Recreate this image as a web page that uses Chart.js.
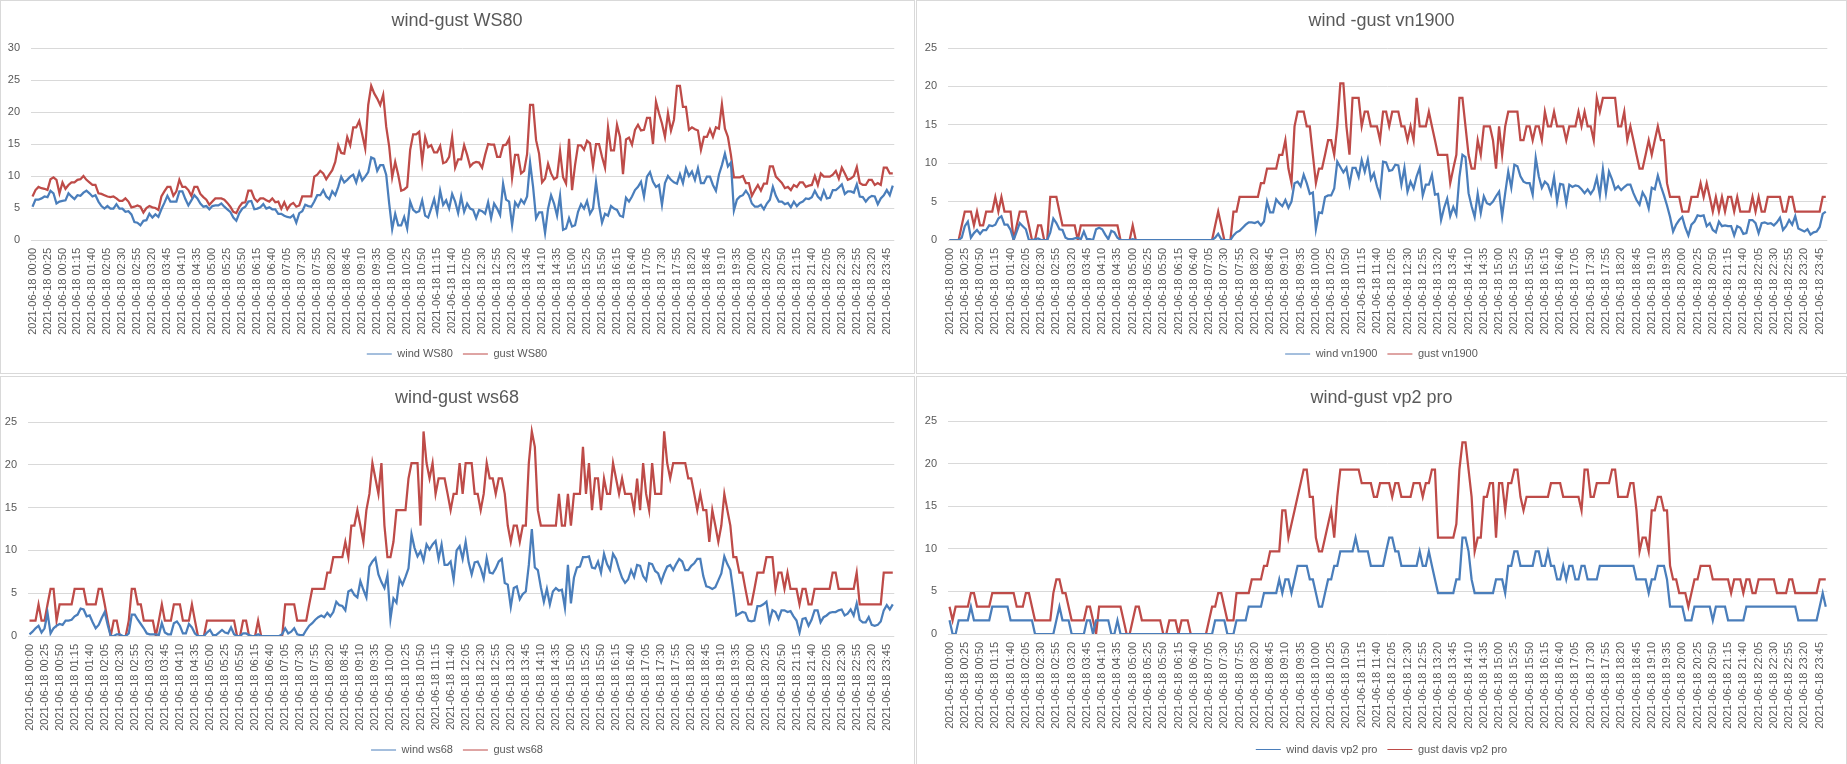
<!DOCTYPE html>
<html>
<head>
<meta charset="utf-8">
<script src="https://cdn.jsdelivr.net/npm/chart.js@4.4.1/dist/chart.umd.min.js"></script>
<style>
  html, body { margin: 0; padding: 0; background: #fff; width: 1847px; height: 764px; overflow: hidden; }
  canvas { position: absolute; }
  .frame { position: absolute; box-sizing: border-box; border: 1px solid #d9d9d9; z-index: 2; pointer-events: none; }
</style>
</head>
<body>
<canvas id="ws80" width="914" height="373" style="left:0px;top:0px"></canvas>
<canvas id="vn1900" width="931" height="373" style="left:916px;top:0px"></canvas>
<canvas id="ws68" width="914" height="400" style="left:0px;top:376px"></canvas>
<canvas id="vp2" width="931" height="400" style="left:916px;top:376px"></canvas>
<div class="frame" style="left:0px;top:0px;width:915px;height:374px"></div>
<div class="frame" style="left:916px;top:0px;width:931px;height:374px"></div>
<div class="frame" style="left:0px;top:376px;width:915px;height:400px"></div>
<div class="frame" style="left:916px;top:376px;width:931px;height:400px"></div>
<script>
// 5-minute categories for the day
const times = [];
for (let m = 0; m < 1440; m += 5) {
  const h = String(Math.floor(m / 60)).padStart(2, "0");
  const mm = String(m % 60).padStart(2, "0");
  times.push("2021-06-18 " + h + ":" + mm);
}

const yTicks30 = [0, 5, 10, 15, 20, 25, 30];
const yTicks25 = [0, 5, 10, 15, 20, 25];

const windWS80 = [
  5.2, 6.3, 6.3, 6.5, 6.8, 6.7, 7.7, 7.3, 5.7, 6.0,
  6.1, 6.2, 7.3, 6.8, 6.4, 7.0, 6.9, 7.4, 7.7, 7.3,
  6.8, 7.0, 6.0, 5.3, 4.9, 5.3, 4.9, 4.9, 5.6, 4.9,
  4.9, 4.4, 4.5, 4.0, 2.8, 2.7, 2.3, 3.0, 3.1, 4.1,
  3.5, 4.0, 3.6, 4.8, 5.8, 6.9, 6.0, 6.0, 6.0, 7.6,
  7.6, 6.4, 5.4, 6.2, 7.0, 6.5, 5.7, 5.2, 5.3, 4.8,
  5.3, 5.4, 5.4, 5.7, 5.2, 4.8, 4.4, 3.5, 3.0, 4.2,
  4.9, 5.2, 6.0, 6.1, 4.8, 4.9, 5.1, 5.6, 4.9, 5.1,
  4.8, 4.8, 4.1, 4.1, 3.8, 3.6, 3.5, 3.9, 2.7, 4.2,
  4.5, 5.5, 5.3, 5.2, 6.0, 7.0, 7.0, 7.8, 6.8, 6.4,
  7.6, 7.0, 8.3, 9.9, 9.0, 9.4, 9.9, 10.2, 9.0, 10.6,
  9.3, 9.9, 10.6, 12.9, 12.7, 10.8, 11.7, 11.7, 10.2, 5.7,
  1.7, 4.1, 2.3, 2.3, 3.6, 1.8, 6.0, 4.7, 4.3, 4.5,
  6.2, 3.8, 3.5, 4.9, 6.4, 4.2, 7.7, 5.5, 6.2, 4.9,
  7.2, 6.0, 4.2, 6.8, 4.4, 5.7, 4.9, 4.7, 3.4, 4.7,
  4.5, 4.1, 5.9, 3.4, 5.7, 4.9, 3.9, 8.8, 6.3, 6.0,
  2.3, 5.9, 5.2, 6.3, 5.7, 6.8, 12.1, 8.3, 3.4, 4.3,
  4.3, 1.1, 4.9, 7.0, 5.7, 3.8, 6.9, 1.6, 1.8, 3.4,
  2.1, 2.3, 4.4, 5.6, 4.9, 6.1, 4.1, 4.9, 9.0, 5.4,
  2.7, 4.1, 3.8, 5.3, 4.9, 4.7, 3.8, 3.6, 6.6, 6.0,
  6.8, 7.8, 8.3, 9.1, 6.8, 9.9, 10.6, 9.1, 8.3, 8.6,
  5.5, 8.9, 10.0, 9.4, 9.0, 8.8, 10.3, 8.9, 11.2, 10.0,
  10.7, 9.4, 11.2, 8.9, 8.9, 9.9, 9.9, 8.6, 7.7, 10.2,
  11.7, 13.5, 11.5, 12.1, 4.6, 6.3, 6.8, 7.0, 7.7, 7.0,
  5.7, 5.2, 5.2, 5.5, 4.8, 5.7, 6.3, 8.3, 6.9, 6.0,
  6.0, 5.6, 5.8, 5.1, 6.0, 5.3, 5.8, 6.0, 6.5, 6.4,
  6.7, 7.7, 6.8, 6.3, 7.7, 6.5, 6.6, 7.8, 7.8, 8.2,
  8.7, 7.2, 7.6, 7.6, 7.4, 8.7, 6.8, 6.7, 6.0, 6.6,
  6.9, 6.8, 5.6, 6.5, 7.0, 7.8, 7.0, 8.5
];
const gustWS80 = [
  6.8, 7.8, 8.3, 8.1, 8.0, 7.8, 9.5, 9.8, 9.4, 7.3,
  9.0, 8.0, 8.6, 9.0, 9.0, 9.4, 9.5, 10.0, 9.4, 9.0,
  8.6, 8.6, 7.3, 7.2, 7.0, 6.8, 6.7, 6.8, 6.5, 6.1,
  6.1, 6.5, 6.0, 5.1, 5.2, 5.4, 5.2, 4.3, 5.0, 5.3,
  5.1, 5.0, 4.7, 6.8, 7.6, 8.3, 8.3, 6.9, 7.6, 9.4,
  8.3, 8.3, 7.8, 6.9, 8.3, 8.3, 7.2, 6.7, 6.3, 5.5,
  6.0, 6.5, 6.5, 6.5, 6.3, 5.8, 5.2, 4.4, 4.2, 5.2,
  5.8, 5.9, 7.7, 7.7, 6.5, 6.0, 6.5, 6.5, 6.2, 6.0,
  6.5, 5.9, 6.0, 4.9, 5.9, 4.8, 5.5, 5.8, 5.2, 5.4,
  6.8, 6.8, 6.8, 6.8, 9.9, 10.2, 10.8, 10.4, 9.5, 10.2,
  10.9, 12.2, 14.8, 13.6, 13.5, 16.1, 14.8, 17.6, 17.6, 18.6,
  16.5, 14.3, 21.1, 24.1, 22.9, 22.1, 21.1, 22.7, 17.7, 14.6,
  9.8, 12.2, 10.2, 7.7, 7.9, 8.3, 14.1, 16.5, 16.5, 16.9,
  12.2, 16.1, 14.5, 14.8, 13.7, 13.7, 14.7, 12.0, 12.2, 13.0,
  16.1, 11.3, 12.6, 12.6, 14.8, 13.3, 11.5, 12.0, 12.2, 12.1,
  11.3, 13.3, 15.0, 14.9, 14.9, 13.0, 13.0, 14.8, 14.9, 15.8,
  9.7, 13.3, 13.3, 10.4, 10.8, 13.4, 21.1, 21.1, 15.6, 13.5,
  9.0, 9.6, 11.9, 10.4, 9.5, 9.8, 13.9, 9.8, 8.8, 15.8,
  7.8, 11.7, 14.8, 14.8, 14.1, 15.5, 15.1, 11.5, 15.0, 15.0,
  13.0, 11.3, 17.6, 14.0, 14.0, 18.0, 16.1, 10.3, 15.7, 16.0,
  14.9, 17.2, 18.0, 17.1, 17.2, 19.1, 19.1, 15.0, 21.6, 19.8,
  18.2, 16.1, 19.8, 17.1, 18.8, 24.1, 24.1, 20.8, 20.8, 17.2,
  17.6, 17.3, 17.1, 14.1, 16.1, 16.1, 17.3, 16.1, 17.6, 17.4,
  21.2, 17.4, 16.1, 13.3, 9.8, 9.8, 9.8, 10.0, 8.9, 8.9,
  6.9, 7.8, 8.6, 7.7, 8.8, 8.8, 11.5, 11.5, 9.9, 9.4,
  8.9, 8.1, 8.3, 7.8, 8.6, 8.3, 9.0, 9.0, 8.3, 8.5,
  8.6, 10.0, 8.6, 10.4, 9.9, 9.9, 9.9, 10.2, 10.8, 9.6,
  11.3, 10.4, 9.4, 9.6, 10.0, 11.4, 8.9, 8.6, 8.6, 9.4,
  9.4, 8.6, 8.9, 8.6, 11.3, 11.3, 10.4, 10.4
];

const windVN1900 = [
  0, 0, 0, 0, 0.3, 1.8, 2.4, 0.3, 0.9, 1.3,
  0.8, 1.3, 1.3, 1.9, 1.8, 2.0, 2.8, 3.1, 2.0, 2.0,
  1.3, 0, 1.1, 2.2, 1.8, 1.4, 0, 0, 0.1, 0.2,
  0, 0, 0, 1.0, 2.8, 2.2, 1.4, 1.3, 0.3, 0.1,
  0.1, 0.2, 0.3, 0.1, 1.1, 0.1, 0.1, 0, 1.4, 1.6,
  1.4, 0.7, 0.1, 1.2, 1.0, 0.3, 0, 0, 0, 0,
  0.1, 0, 0, 0, 0, 0, 0, 0, 0, 0,
  0, 0, 0, 0, 0, 0, 0, 0, 0, 0,
  0, 0, 0, 0, 0, 0, 0, 0.3, 0.8, 0.1,
  0, 0, 0, 0.6, 1.0, 1.2, 1.6, 2.0, 2.3, 2.3,
  2.2, 2.4, 1.9, 2.4, 5.0, 3.6, 3.6, 5.3, 4.8, 4.4,
  5.2, 4.2, 5.0, 7.4, 7.6, 7.0, 8.5, 7.4, 6.0, 6.2,
  1.4, 3.6, 3.5, 5.6, 5.8, 5.8, 6.7, 10.2, 9.5, 8.8,
  9.4, 7.2, 9.4, 9.4, 8.2, 10.4, 8.9, 10.5, 7.9, 8.7,
  7.0, 5.8, 10.2, 10.1, 9.0, 9.1, 9.8, 9.7, 7.2, 9.4,
  6.3, 7.6, 6.7, 8.3, 9.4, 5.8, 7.2, 7.2, 8.5, 5.9,
  6.0, 2.6, 4.2, 5.4, 3.1, 4.3, 3.3, 8.2, 11.1, 10.8,
  6.1, 4.4, 3.0, 6.0, 3.5, 5.7, 4.8, 4.6, 5.0, 5.7,
  6.3, 3.1, 6.1, 8.9, 6.8, 9.8, 9.6, 8.3, 7.6, 7.4,
  7.4, 5.9, 10.7, 8.3, 6.8, 7.6, 7.2, 6.0, 8.2, 5.0,
  7.3, 7.2, 4.8, 7.2, 6.9, 7.1, 7.0, 6.6, 6.1, 6.6,
  6.0, 6.6, 8.1, 5.8, 9.2, 6.1, 8.9, 7.9, 6.6, 7.0,
  6.5, 6.9, 7.2, 7.2, 6.1, 5.2, 4.6, 6.2, 5.5, 4.1,
  6.8, 6.6, 8.4, 7.0, 5.8, 4.5, 3.0, 1.1, 2.0, 2.6,
  3.0, 1.6, 0.6, 2.0, 2.4, 3.2, 3.1, 3.2, 1.8, 2.2,
  1.3, 1.0, 2.4, 1.8, 1.9, 1.8, 1.8, 0.6, 1.8, 1.6,
  0.8, 0.9, 2.6, 2.6, 2.2, 0.9, 2.2, 2.3, 2.1, 2.2,
  1.9, 2.3, 2.9, 1.3, 1.8, 2.6, 2.0, 3.1, 1.5, 1.3,
  1.1, 1.4, 0.7, 1.0, 1.1, 1.7, 3.4, 3.7
];
const gustVN1900 = [
  0, 0, 0, 0, 1.9, 3.7, 3.7, 3.7, 1.9, 3.7,
  1.9, 1.9, 3.7, 3.7, 3.7, 5.6, 3.7, 5.6, 3.7, 3.7,
  3.7, 0, 1.9, 3.7, 3.7, 3.7, 1.9, 0, 0, 1.9,
  1.9, 0, 0, 5.6, 5.6, 5.6, 3.7, 1.9, 1.9, 1.9,
  1.9, 1.9, 0, 1.9, 1.9, 1.9, 1.9, 1.9, 1.9, 1.9,
  1.9, 1.9, 1.9, 1.9, 1.9, 1.9, 0, 0, 0, 0,
  1.9, 0, 0, 0, 0, 0, 0, 0, 0, 0,
  0, 0, 0, 0, 0, 0, 0, 0, 0, 0,
  0, 0, 0, 0, 0, 0, 0, 1.9, 3.7, 1.9,
  0, 0, 0, 3.7, 3.7, 5.6, 5.6, 5.6, 5.6, 5.6,
  5.6, 5.6, 7.4, 7.4, 9.3, 9.3, 9.3, 9.3, 11.1, 11.1,
  13.0, 9.3, 7.4, 14.8, 16.7, 16.7, 16.7, 14.8, 14.8, 11.1,
  7.4, 9.3, 9.3, 11.1, 13.0, 13.0, 11.1, 14.8, 20.4, 20.4,
  14.8, 11.1, 18.5, 18.5, 18.5, 14.8, 16.7, 16.7, 14.8, 14.8,
  14.8, 13.0, 16.7, 16.7, 14.8, 16.7, 16.7, 16.7, 14.8, 14.8,
  13.0, 14.8, 13.0, 18.5, 14.8, 14.8, 14.8, 16.7, 14.8, 13.0,
  11.1, 11.1, 11.1, 11.1, 7.4, 9.3, 11.1, 18.5, 18.5, 14.8,
  11.1, 9.3, 9.3, 13.0, 11.1, 14.8, 14.8, 14.8, 13.0, 9.3,
  14.8, 11.1, 14.8, 16.7, 16.7, 16.7, 16.7, 13.0, 13.0, 14.8,
  14.8, 13.0, 14.8, 14.8, 13.0, 16.7, 14.8, 14.8, 16.7, 14.8,
  14.8, 14.8, 13.0, 14.8, 14.8, 14.8, 16.7, 14.8, 16.7, 14.8,
  14.8, 13.0, 18.5, 16.7, 18.5, 18.5, 18.5, 18.5, 18.5, 14.8,
  14.8, 16.7, 13.0, 14.8, 13.0, 11.1, 9.3, 9.3, 11.1, 13.0,
  11.1, 13.0, 14.8, 13.0, 13.0, 7.4, 5.6, 5.6, 5.6, 5.6,
  3.7, 3.7, 3.7, 5.6, 5.6, 5.6, 7.4, 5.6, 7.4, 5.6,
  3.7, 5.6, 3.7, 5.6, 3.7, 5.6, 5.6, 3.7, 5.6, 3.7,
  3.7, 3.7, 3.7, 5.6, 3.7, 5.6, 3.7, 3.7, 5.6, 5.6,
  5.6, 5.6, 5.6, 3.7, 3.7, 5.6, 5.6, 3.7, 3.7, 3.7,
  3.7, 3.7, 3.7, 3.7, 3.7, 3.7, 5.6, 5.6
];

const windWS68 = [
  0.2, 0.5, 0.9, 1.2, 0.4, 0.9, 2.7, 0.3, 0.9, 1.2,
  1.4, 1.3, 1.8, 1.8, 1.9, 2.3, 2.5, 3.2, 3.1, 2.3,
  2.4, 1.6, 0.9, 1.3, 2.1, 2.8, 1.3, 0, 0, 0.2,
  0.2, 0, 0, 0.3, 2.5, 2.5, 1.9, 1.4, 0.9, 0.3,
  0.2, 0.2, 0.2, 0.1, 1.5, 0.4, 0.2, 0.2, 1.5, 1.7,
  1.2, 0.3, 0.3, 1.4, 1.0, 0.3, 0, 0, 0, 0.4,
  0.7, 0.1, 0.1, 0.4, 0.7, 0.4, 0.3, 1.0, 0.2, 0,
  0, 0.3, 0.3, 0.1, 0, 0, 0.2, 0, 0, 0,
  0, 0, 0, 0, 0.2, 0.9, 0.3, 0.5, 0.9, 0.2,
  0.1, 0.1, 0.7, 1.2, 1.5, 1.9, 2.2, 2.4, 2.2, 2.7,
  2.3, 2.8, 4.0, 3.6, 3.5, 3.0, 5.2, 5.4, 4.8, 4.5,
  6.4, 5.4, 4.5, 8.1, 8.7, 9.1, 7.2, 6.3, 5.6, 7.1,
  2.0, 4.4, 3.9, 6.7, 6.0, 6.9, 7.9, 11.9, 10.3, 9.3,
  9.9, 8.8, 10.7, 10.1, 10.7, 11.1, 9.0, 10.7, 8.3, 8.3,
  8.7, 6.6, 10.0, 10.5, 9.0, 11.0, 8.6, 7.2, 8.6, 8.7,
  7.9, 6.7, 9.1, 7.4, 7.3, 7.9, 8.7, 9.0, 6.2, 6.0,
  3.4, 5.6, 5.8, 4.3, 4.9, 5.2, 8.3, 12.5, 8.0, 7.7,
  5.7, 4.0, 5.5, 3.7, 5.2, 5.6, 5.3, 5.4, 3.3, 8.3,
  3.8, 6.8, 8.0, 8.1, 9.2, 9.2, 9.3, 8.0, 7.9, 8.7,
  7.4, 9.6, 8.4, 7.7, 9.6, 9.0, 7.8, 6.8, 6.2, 6.6,
  7.7, 6.9, 8.3, 8.2, 7.0, 6.5, 8.5, 8.4, 7.6, 7.3,
  6.3, 7.3, 8.1, 8.3, 7.7, 8.4, 9.0, 8.7, 7.7, 7.7,
  8.2, 8.5, 9.0, 9.0, 7.0, 5.8, 5.7, 5.5, 5.7, 6.5,
  7.3, 9.3, 8.4, 7.7, 5.2, 2.4, 2.6, 2.8, 2.7, 1.8,
  1.7, 1.8, 3.5, 3.5, 3.7, 4.0, 1.7, 3.0, 2.8, 2.0,
  3.0, 3.0, 2.8, 2.9, 2.3, 1.8, 0.4, 2.0, 2.1, 1.2,
  1.9, 3.0, 3.0, 1.6, 2.2, 2.4, 2.7, 2.8, 2.8, 3.0,
  3.1, 2.4, 2.6, 3.1, 2.4, 3.8, 1.9, 1.6, 1.6, 2.2,
  1.3, 1.2, 1.3, 1.7, 3.0, 3.6, 3.1, 3.7
];
const gustWS68 = [
  1.8, 1.8, 1.8, 3.7, 1.8, 1.8, 3.7, 5.5, 5.5, 1.8,
  3.7, 3.7, 3.7, 3.7, 3.7, 5.5, 5.5, 5.5, 5.5, 3.7,
  3.7, 3.7, 3.7, 5.5, 5.5, 3.7, 1.8, 0, 1.8, 1.8,
  0, 0, 0, 1.8, 5.5, 5.5, 3.7, 3.7, 1.8, 1.8,
  1.8, 1.8, 0, 1.8, 3.7, 1.8, 1.8, 1.8, 3.7, 3.7,
  3.7, 1.8, 1.8, 1.8, 3.7, 1.8, 0, 0, 0, 1.8,
  1.8, 1.8, 1.8, 1.8, 1.8, 1.8, 1.8, 1.8, 1.8, 0,
  0, 1.8, 1.8, 0, 0, 0, 1.8, 0, 0, 0,
  0, 0, 0, 0, 0, 3.7, 3.7, 3.7, 3.7, 1.8,
  1.8, 1.8, 1.8, 3.7, 5.5, 5.5, 5.5, 5.5, 5.5, 7.4,
  7.4, 9.2, 9.2, 9.2, 9.2, 11.0, 9.2, 12.9, 12.9, 14.7,
  12.9, 11.0, 14.7, 16.6, 20.2, 18.4, 16.6, 20.2, 12.9, 9.2,
  9.2, 11.0, 14.7, 14.7, 14.7, 14.7, 18.4, 20.2, 20.2, 20.2,
  12.9, 23.9, 20.2, 18.4, 20.2, 16.6, 18.4, 18.4, 18.4, 16.6,
  14.7, 16.6, 16.6, 20.2, 16.6, 20.2, 20.2, 20.2, 16.6, 16.6,
  14.7, 16.6, 20.2, 18.4, 18.4, 16.6, 18.4, 18.4, 16.6, 12.9,
  11.0, 12.9, 12.9, 11.0, 12.9, 12.9, 20.2, 23.9, 22.1, 14.7,
  12.9, 12.9, 12.9, 12.9, 12.9, 12.9, 16.6, 12.9, 12.9, 16.6,
  12.9, 16.6, 16.6, 16.6, 22.1, 16.6, 20.2, 14.7, 18.4, 18.4,
  14.7, 18.4, 16.6, 16.6, 20.2, 18.4, 16.6, 18.4, 16.6, 16.6,
  16.6, 14.7, 18.4, 14.7, 20.2, 16.6, 14.7, 20.2, 16.6, 16.6,
  16.6, 23.9, 20.2, 18.4, 20.2, 20.2, 20.2, 20.2, 20.2, 18.4,
  18.4, 16.6, 14.7, 16.6, 14.7, 14.7, 11.0, 14.7, 12.9, 11.0,
  12.9, 16.6, 14.7, 12.9, 9.2, 9.2, 7.4, 7.4, 5.5, 3.7,
  3.7, 5.5, 7.4, 7.4, 7.4, 9.2, 9.2, 9.2, 5.5, 7.4,
  7.4, 5.5, 7.4, 5.5, 5.5, 5.5, 3.7, 5.5, 5.5, 3.7,
  3.7, 5.5, 5.5, 5.5, 5.5, 5.5, 5.5, 7.4, 7.4, 5.5,
  5.5, 5.5, 5.5, 5.5, 5.5, 7.4, 3.7, 3.7, 3.7, 3.7,
  3.7, 3.7, 3.7, 3.7, 7.4, 7.4, 7.4, 7.4
];

const windVP2 = [
  1.6, 0, 0, 1.6, 1.6, 1.6, 1.6, 3.2, 1.6, 1.6,
  1.6, 1.6, 1.6, 1.6, 3.2, 3.2, 3.2, 3.2, 3.2, 3.2,
  1.6, 1.6, 1.6, 1.6, 1.6, 1.6, 1.6, 1.6, 0, 0,
  0, 0, 0, 0, 0, 1.6, 3.2, 1.6, 1.6, 1.6,
  0, 0, 0, 0, 0, 1.6, 1.6, 0, 1.6, 1.6,
  1.6, 1.6, 1.6, 0, 0, 1.6, 0, 0, 0, 0,
  0, 0, 0, 0, 0, 0, 0, 0, 0, 0,
  0, 0, 0, 0, 0, 0, 0, 0, 0, 0,
  0, 0, 0, 0, 0, 0, 0, 1.6, 1.6, 1.6,
  1.6, 0, 0, 0, 1.6, 1.6, 1.6, 1.6, 3.2, 3.2,
  3.2, 3.2, 3.2, 4.8, 4.8, 4.8, 4.8, 4.8, 6.4, 4.8,
  6.4, 6.4, 4.8, 6.4, 8.0, 8.0, 8.0, 8.0, 6.4, 6.4,
  4.8, 3.2, 3.2, 4.8, 6.4, 6.4, 8.0, 8.0, 9.7, 9.7,
  9.7, 9.7, 9.7, 11.3, 9.7, 9.7, 9.7, 9.7, 8.0, 8.0,
  8.0, 8.0, 8.0, 9.7, 11.3, 11.3, 9.7, 9.7, 8.0, 8.0,
  8.0, 8.0, 8.0, 8.0, 9.7, 8.0, 8.0, 9.7, 8.0, 6.4,
  4.8, 4.8, 4.8, 4.8, 4.8, 4.8, 6.4, 6.4, 11.3, 11.3,
  9.7, 6.4, 4.8, 4.8, 4.8, 4.8, 4.8, 4.8, 4.8, 6.4,
  6.4, 6.4, 4.8, 8.0, 8.0, 9.7, 9.7, 8.0, 8.0, 8.0,
  8.0, 8.0, 9.7, 9.7, 8.0, 8.0, 9.7, 8.0, 8.0, 6.4,
  6.4, 8.0, 6.4, 8.0, 8.0, 6.4, 6.4, 8.0, 8.0, 6.4,
  6.4, 6.4, 6.4, 8.0, 8.0, 8.0, 8.0, 8.0, 8.0, 8.0,
  8.0, 8.0, 8.0, 8.0, 8.0, 6.4, 6.4, 6.4, 6.4, 4.8,
  6.4, 6.4, 8.0, 8.0, 8.0, 6.4, 3.2, 3.2, 3.2, 3.2,
  3.2, 1.6, 1.6, 1.6, 3.2, 3.2, 3.2, 3.2, 3.2, 3.2,
  1.6, 3.2, 3.2, 3.2, 3.2, 1.6, 1.6, 1.6, 1.6, 1.6,
  1.6, 3.2, 3.2, 3.2, 3.2, 3.2, 3.2, 3.2, 3.2, 3.2,
  3.2, 3.2, 3.2, 3.2, 3.2, 3.2, 3.2, 3.2, 1.6, 1.6,
  1.6, 1.6, 1.6, 1.6, 1.6, 3.2, 4.8, 3.2
];
const gustVP2 = [
  3.2, 1.6, 3.2, 3.2, 3.2, 3.2, 3.2, 4.8, 4.8, 3.2,
  3.2, 3.2, 3.2, 3.2, 4.8, 4.8, 4.8, 4.8, 4.8, 4.8,
  4.8, 4.8, 3.2, 3.2, 3.2, 4.8, 4.8, 3.2, 1.6, 1.6,
  1.6, 1.6, 1.6, 1.6, 4.8, 6.4, 6.4, 4.8, 4.8, 3.2,
  1.6, 1.6, 1.6, 1.6, 1.6, 3.2, 3.2, 1.6, 0, 3.2,
  3.2, 3.2, 3.2, 3.2, 3.2, 3.2, 3.2, 1.6, 0, 0,
  1.6, 3.2, 3.2, 1.6, 1.6, 1.6, 1.6, 1.6, 1.6, 1.6,
  0, 0, 1.6, 1.6, 1.6, 0, 1.6, 1.6, 1.6, 0,
  0, 0, 0, 0, 0, 1.6, 3.2, 3.2, 4.8, 4.8,
  3.2, 1.6, 1.6, 1.6, 4.8, 4.8, 4.8, 4.8, 4.8, 6.4,
  6.4, 6.4, 6.4, 8.0, 8.0, 9.7, 9.7, 9.7, 9.7, 14.5,
  14.5, 11.3, 12.9, 14.5, 16.1, 17.7, 19.3, 19.3, 16.1, 16.1,
  11.3, 9.7, 9.7, 11.3, 12.9, 14.5, 11.3, 16.1, 19.3, 19.3,
  19.3, 19.3, 19.3, 19.3, 19.3, 17.7, 17.7, 17.7, 17.7, 16.1,
  16.1, 17.7, 17.7, 17.7, 17.7, 16.1, 17.7, 17.7, 16.1, 16.1,
  16.1, 16.1, 17.7, 17.7, 17.7, 16.1, 17.7, 17.7, 19.3, 19.3,
  11.3, 11.3, 11.3, 11.3, 11.3, 11.3, 12.9, 19.3, 22.5, 22.5,
  19.3, 16.1, 9.7, 11.3, 11.3, 16.1, 16.1, 17.7, 17.7, 11.3,
  17.7, 17.7, 14.5, 17.7, 17.7, 19.3, 19.3, 16.1, 14.5, 16.1,
  16.1, 16.1, 16.1, 16.1, 16.1, 16.1, 16.1, 17.7, 17.7, 17.7,
  17.7, 16.1, 16.1, 16.1, 16.1, 16.1, 16.1, 14.5, 19.3, 19.3,
  16.1, 16.1, 17.7, 17.7, 17.7, 17.7, 17.7, 19.3, 19.3, 16.1,
  16.1, 16.1, 16.1, 17.7, 17.7, 14.5, 9.7, 11.3, 11.3, 9.7,
  14.5, 14.5, 16.1, 16.1, 14.5, 14.5, 8.0, 6.4, 6.4, 4.8,
  4.8, 4.8, 3.2, 4.8, 6.4, 6.4, 8.0, 8.0, 8.0, 8.0,
  6.4, 6.4, 6.4, 6.4, 6.4, 6.4, 4.8, 6.4, 6.4, 6.4,
  4.8, 6.4, 6.4, 4.8, 4.8, 6.4, 6.4, 6.4, 6.4, 6.4,
  6.4, 4.8, 4.8, 4.8, 4.8, 6.4, 6.4, 4.8, 4.8, 4.8,
  4.8, 4.8, 4.8, 4.8, 4.8, 6.4, 6.4, 6.4
];

const BLUE = "#4a7ebb";
const RED = "#be4b48";
const GREY_TEXT = "#595959";

Chart.defaults.font.family = "'Liberation Sans', Arial, sans-serif";
Chart.defaults.color = GREY_TEXT;

function makeChart(id, p) {
  new Chart(document.getElementById(id), {
    type: "line",
    data: {
      labels: times,
      datasets: [
        { label: p.names[0], data: p.wind, borderColor: BLUE, backgroundColor: BLUE },
        { label: p.names[1], data: p.gust, borderColor: RED, backgroundColor: RED },
      ],
    },
    options: {
      responsive: false,
      animation: false,
      events: [],
      layout: { padding: { left: 0, right: 0, top: 0, bottom: p.bottom } },
      elements: {
        point: { radius: 0 },
        line: { borderWidth: 2.25, tension: 0, fill: false },
      },
      plugins: {
        title: {
          display: true,
          text: p.title,
          color: GREY_TEXT,
          font: { size: 18, weight: "normal" },
          padding: { top: p.titleTop, bottom: p.titleBottom },
        },
        legend: {
          position: "bottom",
          labels: {
            color: GREY_TEXT,
            font: { size: 11 },
            usePointStyle: true,
            pointStyle: "line",
            pointStyleWidth: 25,
            padding: 10,
          },
        },
        tooltip: { enabled: false },
      },
      scales: {
        x: {
          offset: true,
          grid: { display: false, drawTicks: false },
          border: { display: false },
          ticks: {
            autoSkip: false,
            minRotation: 90,
            maxRotation: 90,
            padding: 8,
            font: { size: 11 },
            color: GREY_TEXT,
            callback: function (value, index) {
              return index % 5 === 0 ? this.getLabelForValue(value) : "";
            },
          },
          afterFit: (s) => { s.height = p.xHeight; },
        },
        y: {
          min: 0,
          max: p.ticks[p.ticks.length - 1],
          grid: { color: "#d9d9d9", drawTicks: false },
          border: { display: false },
          ticks: { padding: 11, font: { size: 11 }, color: GREY_TEXT },
          afterBuildTicks: (s) => { s.ticks = p.ticks.map((v) => ({ value: v })); },
          afterFit: (s) => { s.width = p.yWidth; },
        },
        // empty right-hand box, keeps the plot clear of the frame
        yRight: {
          position: "right",
          grid: { display: false, drawTicks: false },
          border: { display: false },
          ticks: { display: false },
          afterFit: (s) => { s.width = p.right; },
        },
      },
    },
  });
}

makeChart("ws80", {
  title: "wind-gust WS80", names: ["wind WS80", "gust WS80"],
  wind: windWS80, gust: gustWS80, ticks: yTicks30,
  yWidth: 31, right: 14, titleTop: 10.5, titleBottom: 15.9, xHeight: 98.5, bottom: 3.5,
});
makeChart("vn1900", {
  title: "wind -gust vn1900", names: ["wind vn1900", "gust vn1900"],
  wind: windVN1900, gust: gustVN1900, ticks: yTicks25,
  yWidth: 32, right: 17, titleTop: 10.5, titleBottom: 15.9, xHeight: 98.5, bottom: 3.5,
});
makeChart("ws68", {
  title: "wind-gust ws68", names: ["wind ws68", "gust ws68"],
  wind: windWS68, gust: gustWS68, ticks: yTicks25,
  yWidth: 28, right: 12, titleTop: 11.2, titleBottom: 13.2, xHeight: 98.5, bottom: 10.5,
});
makeChart("vp2", {
  title: "wind-gust vp2 pro", names: ["wind davis vp2 pro", "gust davis vp2 pro"],
  wind: windVP2, gust: gustVP2, ticks: yTicks25,
  yWidth: 32, right: 17, titleTop: 11.2, titleBottom: 12.2, xHeight: 100, bottom: 11,
});
</script>
</body>
</html>
